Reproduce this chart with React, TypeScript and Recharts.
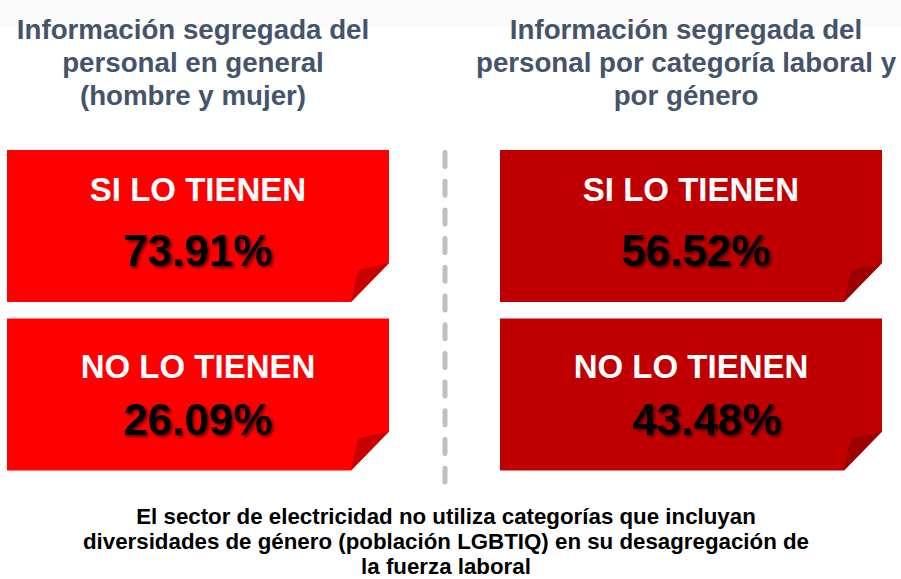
import React from "react";
import { ScatterChart, Scatter, XAxis, YAxis } from "recharts";

// ---- data ----
const panels = ["Personal en general", "Personal por categoría laboral y género"];
const panelTitles: string[][] = [
  ["Información segregada del", "personal en general", "(hombre y mujer)"],
  ["Información segregada del", "personal por categoría laboral y", "por género"],
];
const rowLabels = ["SI LO TIENEN", "NO LO TIENEN"];
const siValues = [73.91, 56.52];
const noValues = [26.09, 43.48];
const footnoteLines = [
  "El sector de electricidad no utiliza categorías que incluyan",
  "diversidades de género (población LGBTIQ) en su desagregación de",
  "la fuerza laboral",
];

// ---- styles ----
const W = 901;
const H = 579;
const FONT = "'Liberation Sans', Arial, Helvetica, sans-serif";
const panelFill = ["#FF0000", "#C00000"];
const foldFill = ["#C80000", "#9C0000"];
const titleColor = "#44546A";
const CARD_W = 382;
const CARD_H = 152;
const labelDy = [-25, -16.5];
const valueDy = [39.5, 40];
const valueDx = [
  [0, 0],
  [5, 16],
];
const titleCx = [193, 686];

const cards = panels.flatMap((p, i) => [
  { panel: p, row: rowLabels[0], value: siValues[i], pi: i, ri: 0 },
  { panel: p, row: rowLabels[1], value: noValues[i], pi: i, ri: 1 },
]);

function CardShape(props: any) {
  const { cx, cy, payload } = props;
  if (cx == null || cy == null || !payload) return null;
  const pi = payload.pi as number;
  const ri = payload.ri as number;
  const x0 = cx - CARD_W / 2;
  const x1 = cx + CARD_W / 2;
  const y0 = cy - CARD_H / 2;
  const y1 = cy + CARD_H / 2;
  const fx = 38;
  const fy = 39;
  const body = `M${x0},${y0} H${x1} V${y1 - fy} L${x1 - fx},${y1} H${x0} Z`;
  const fold = `M${x1},${y1 - fy} L${x1 - 31},${y1 - 32} L${x1 - fx},${y1} Z`;
  const fid = `shadow-${pi}-${ri}`;
  return (
    <g>
      <defs>
        <filter id={fid} x="-20%" y="-40%" width="140%" height="180%">
          <feDropShadow dx="2" dy="2" stdDeviation="1.6" floodColor="#000" floodOpacity="0.55" />
        </filter>
      </defs>
      <path d={body} fill={panelFill[pi]} />
      <path d={fold} fill={foldFill[pi]} />
      <text
        x={cx}
        y={cy + labelDy[ri]}
        textAnchor="middle"
        fill="#FFFFFF"
        fontFamily={FONT}
        fontWeight="bold"
        fontSize={33}
      >
        {payload.row}
      </text>
      <text
        x={cx + valueDx[pi][ri]}
        y={cy + valueDy[ri]}
        textAnchor="middle"
        fill="#000000"
        fontFamily={FONT}
        fontWeight="bold"
        fontSize={44}
        filter={`url(#${fid})`}
      >
        {payload.value.toFixed(2) + "%"}
      </text>
    </g>
  );
}

export default function App() {
  return (
    <div style={{ position: "absolute", left: 0, top: 0, width: W, height: H, background: "#FFFFFF" }}>
      <ScatterChart
        width={W}
        height={H}
        margin={{ top: 226, bottom: H - 394.5, left: 198, right: W - 691 }}
      >
        <rect x={0} y={0} width={W} height={27} fill="#FAFAFA" />
        <XAxis
          dataKey="panel"
          type="category"
          allowDuplicatedCategory={false}
          scale="point"
          padding={{ left: 0, right: 0 }}
          hide
        />
        <YAxis
          dataKey="row"
          type="category"
          allowDuplicatedCategory={false}
          scale="point"
          padding={{ top: 0, bottom: 0 }}
          reversed
          hide
        />
        <line
          x1={445}
          x2={445}
          y1={152.5}
          y2={482}
          stroke="#BFBFBF"
          strokeWidth={5}
          strokeLinecap="round"
          strokeDasharray="14 14.7"
        />
        <Scatter data={cards} shape={CardShape} isAnimationActive={false} />
        {panelTitles.map((lines, i) => (
          <text
            key={`t${i}`}
            textAnchor="middle"
            fill={titleColor}
            fontFamily={FONT}
            fontWeight="bold"
            fontSize={27.7}
          >
            {lines.map((l, j) => (
              <tspan key={j} x={titleCx[i]} y={38.5 + j * 33}>
                {l}
              </tspan>
            ))}
          </text>
        ))}
        <text textAnchor="middle" fill="#000000" fontFamily={FONT} fontWeight="bold" fontSize={22.3}>
          {footnoteLines.map((l, j) => (
            <tspan key={j} x={446} y={524 + j * 25}>
              {l}
            </tspan>
          ))}
        </text>
      </ScatterChart>
    </div>
  );
}
